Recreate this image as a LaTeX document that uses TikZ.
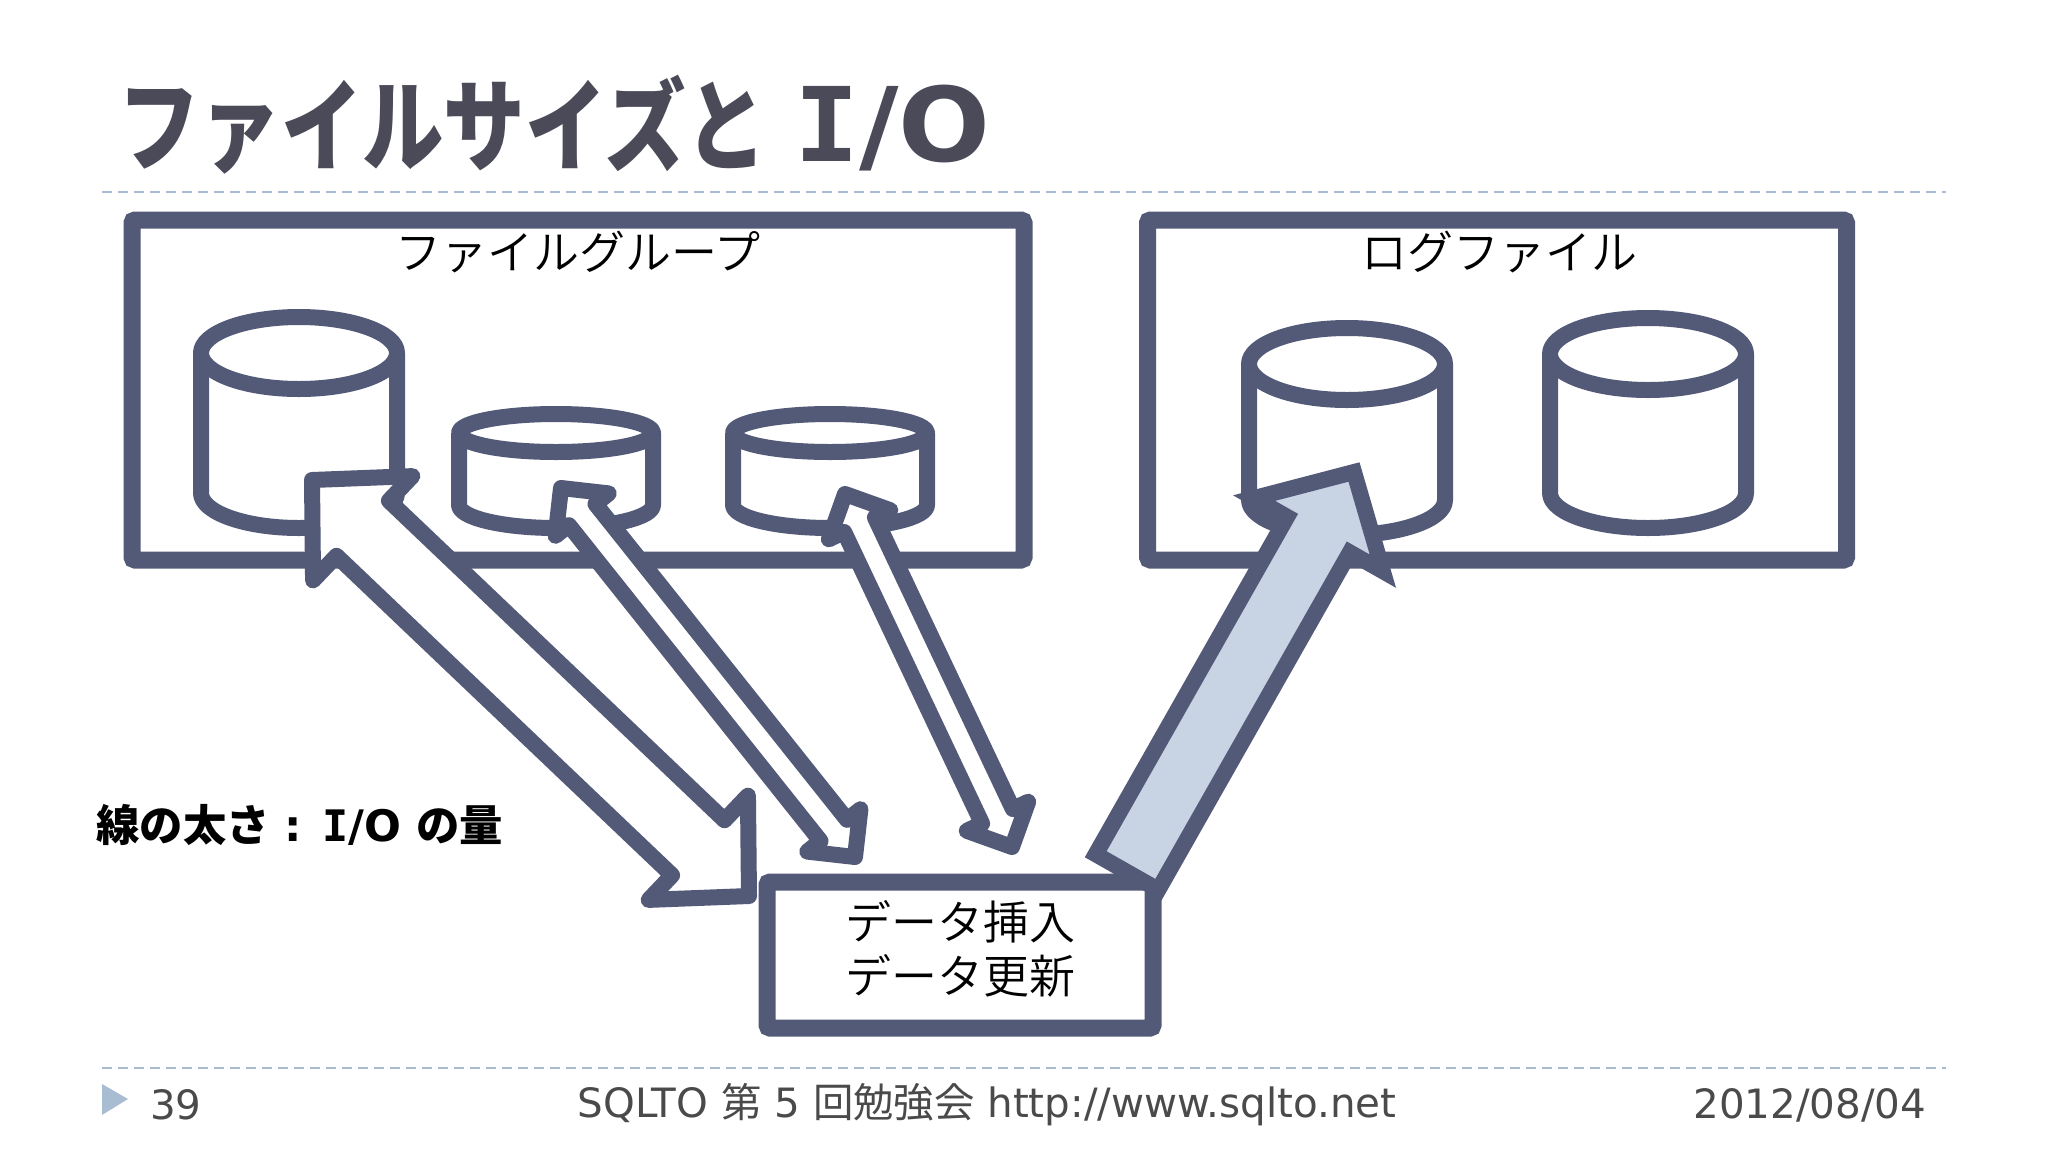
\documentclass[tikz,border=0pt]{standalone}
\usepackage{fontspec}
\setmainfont{DejaVu Sans}
\newfontfamily\cjk{Noto Sans CJK JP}
\newfontfamily\cjklight{Noto Sans CJK JP DemiLight}
\newfontfamily\serifi{DejaVu Sans Mono}
\usetikzlibrary{calc,positioning}
\definecolor{frameblue}{HTML}{535A78}
\definecolor{ruleblue}{HTML}{A8BDD2}
\definecolor{titlegray}{HTML}{4A4A58}
\definecolor{footgray}{HTML}{4A4A4A}
\definecolor{fillblue}{HTML}{C8D4E4}
\tikzset{
	framebox/.style = {draw = frameblue, line width = 17pt, fill = white, rounded corners = 3pt, inner sep = 0pt},
	dbshape/.style = {draw = frameblue, line width = 16pt, fill = white, line join = round},
	ioarrow/.style = {draw = frameblue, line width = 16pt, fill = white, line join = round},
	logarrow/.style = {draw = frameblue, line width = 16pt, fill = fillblue, line join = miter, miter limit = 10},
	rule/.style = {draw = ruleblue, line width = 2pt, dash pattern = on 10pt off 6pt},
	boxlabel/.style = {font = \cjklight\fontsize{46}{54}\selectfont, align = center, inner sep = 0pt},
	foot/.style = {font = \fontsize{40.4}{48}\selectfont, text = footgray, inner sep = 0pt}
}
\newcommand{\dbcyl}[6]{% center x, top y, bottom y, half width, top ry, bottom ry
	\draw[dbshape] (#1 - #4, #2) -- (#1 - #4, #3 - #6) arc[start angle = 180, end angle = 360, x radius = #4, y radius = -#6] -- (#1 + #4, #2);
	\draw[dbshape] (#1, #2) ellipse[x radius = #4, y radius = #5];
}
\newcommand{\twoheadarrow}[5]{%
	\coordinate (p) at ($(#1)!#5!(#2)$);
	\coordinate (q) at ($(#2)!#5!(#1)$);
	\draw[ioarrow] (#1) -- ($(p)!#4!90:(#2)$) -- ($(p)!#3!90:(#2)$) -- ($(q)!#3!-90:(#1)$) -- ($(q)!#4!-90:(#1)$) -- (#2)
		-- ($(q)!#4!90:(#1)$) -- ($(q)!#3!90:(#1)$) -- ($(p)!#3!-90:(#2)$) -- ($(p)!#4!-90:(#2)$) -- cycle;
}
\begin{document}
\begin{tikzpicture}[x = 1pt, y = -1pt]
	\useasboundingbox (0,0) rectangle (2048,1152);
	\node[anchor = west, inner sep = 0pt, text = titlegray, xscale = 0.905, yscale = 1.12, font = \bfseries\fontsize{90}{100}\selectfont] (title) at (118,125) {\cjk ファイルサイズと};
	\node[anchor = base west, inner sep = 0pt, text = titlegray, xscale = 1.05, font = \bfseries\fontsize{103}{110}\selectfont] (titleio) at (794,161) {{\serifi I}/O};
	\coordinate (ruletopl) at (102,192);
	\coordinate (ruletopr) at (1946,192);
	\coordinate (rulebotl) at (102,1068);
	\coordinate (rulebotr) at (1946,1068);
	\draw[rule] (ruletopl) -- (ruletopr);
	\draw[rule] (rulebotl) -- (rulebotr);

	\node[framebox, minimum width = 892pt, minimum height = 340pt] (filegroup) at (578,390) {};
	\node[framebox, minimum width = 699pt, minimum height = 340pt] (logfile) at (1497,390) {};
	\node[boxlabel] (filegrouplabel) at (578,252) {ファイルグループ};
	\node[boxlabel] (logfilelabel) at (1499,252) {ログファイル};

	\dbcyl{299}{353}{528}{98}{36}{35}
	\dbcyl{556}{433}{528}{97}{19}{23}
	\dbcyl{830}{433}{528}{97}{19}{23}
	\dbcyl{1347}{364}{535}{98}{36}{35}
	\dbcyl{1648}{354}{528}{98}{36}{35}

	\node[framebox, minimum width = 386pt, minimum height = 146pt] (databox) at (960,955) {};
	\node[boxlabel] (datalabel) at (960,949) {データ挿入\\データ更新};

	\coordinate (iotipa) at (312,480);
	\coordinate (iotipb) at (749,896);
	\twoheadarrow{iotipa}{iotipb}{38pt}{72pt}{70pt}
	\coordinate (iotipc) at (561,488);
	\coordinate (iotipd) at (855,857);
	\twoheadarrow{iotipc}{iotipd}{17pt}{34pt}{34pt}
	\coordinate (iotipe) at (845,494);
	\coordinate (iotipf) at (1012,847);
	\twoheadarrow{iotipe}{iotipf}{17pt}{34pt}{34pt}

	\coordinate (logtail) at (1127,872);
	\coordinate (logtip) at (1354,472);
	\coordinate (logneck) at ($(logtip)!72pt!(logtail)$);
	\draw[logarrow] (logtip) -- ($(logneck)!74pt!90:(logtail)$) -- ($(logneck)!36pt!90:(logtail)$) -- ($(logtail)!36pt!-90:(logtip)$)
		-- ($(logtail)!36pt!90:(logtip)$) -- ($(logneck)!36pt!-90:(logtail)$) -- ($(logneck)!74pt!-90:(logtail)$) -- cycle;

	\node[anchor = west, inner sep = 0pt, font = \bfseries\fontsize{43.4}{50}\selectfont] (amountlabel) at (96,825) {{\cjk 線の太さ} : {\serifi I}/O {\cjk の量}};

	\fill[ruleblue] (102,1084) -- (128,1099) -- (102,1115) -- cycle;
	\node[foot, anchor = west] (pagenum) at (150,1105) {39};
	\node[foot] (event) at (987,1105) {SQLTO {\cjk 第} 5 {\cjk 回勉強会} http://www.sqlto.net};
	\node[foot, anchor = east] (eventdate) at (1926.5,1105) {2012/08/04};
\end{tikzpicture}
\end{document}
